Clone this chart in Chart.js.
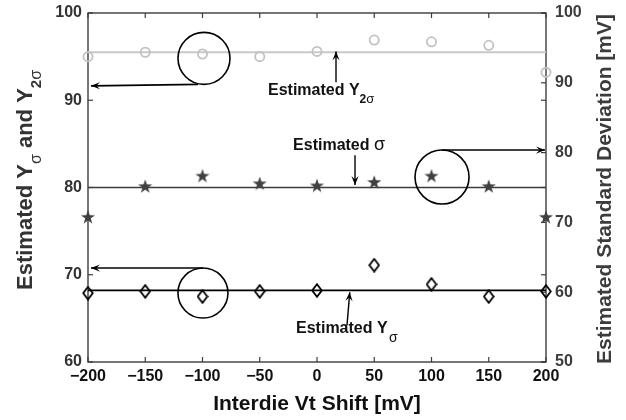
<!DOCTYPE html>
<html><head><meta charset="utf-8">
<script src="https://cdn.jsdelivr.net/npm/chart.js@4/dist/chart.umd.min.js"></script>
<style>html,body{margin:0;padding:0;background:#fff;}#wrap{width:626px;height:420px;}</style>
</head><body><div id="wrap"><canvas id="c" width="626" height="420"></canvas></div>
<script>
// ---- data ----
const xValues = [-200, -150, -100, -50, 0, 50, 100, 150, 200];
const y2SigmaValues = [95.0, 95.5, 95.3, 95.0, 95.6, 96.9, 96.7, 96.3, 93.2];   // left axis
const sigmaValues   = [70.8, 75.2, 76.7, 75.6, 75.3, 75.8, 76.7, 75.2, 70.8];   // right axis [mV]
const ySigmaValues  = [67.9, 68.1, 67.5, 68.1, 68.2, 71.1, 68.9, 67.5, 68.1];   // left axis
const y2SigmaEstimate = 95.5;
const sigmaEstimate = 75.0;
const ySigmaEstimate = 68.2;
const xTicks = [-200, -150, -100, -50, 0, 50, 100, 150, 200];
const leftTicks = [60, 70, 80, 90, 100];
const rightTicks = [50, 60, 70, 80, 90, 100];

const FONT = "'Liberation Sans', Arial, Helvetica, sans-serif";

function pts(ys) { return xValues.map((x, i) => ({ x: x, y: ys[i] })); }
function hline(v) { return [{ x: xValues[0], y: v }, { x: xValues[xValues.length - 1], y: v }]; }

// marker images
function starImg() {
  const c = document.createElement('canvas'); c.width = 16; c.height = 16;
  const g = c.getContext('2d'); g.fillStyle = '#404040'; g.beginPath();
  for (let i = 0; i < 10; i++) {
    const r = i % 2 ? 2.9 : 7.4; const a = -Math.PI / 2 + i * Math.PI / 5;
    const px = 8 + r * Math.cos(a), py = 8.7 + r * Math.sin(a);
    i ? g.lineTo(px, py) : g.moveTo(px, py);
  }
  g.closePath(); g.fill(); return c;
}
function diamondImg() {
  const c = document.createElement('canvas'); c.width = 12; c.height = 15;
  const g = c.getContext('2d'); g.strokeStyle = '#000'; g.lineWidth = 1.8; g.beginPath();
  g.moveTo(6, 1.2); g.lineTo(10.8, 7.5); g.lineTo(6, 13.8); g.lineTo(1.2, 7.5); g.closePath(); g.stroke();
  return c;
}

// callouts (positions in data units of the left axis)
const callouts = [
  { x: -98.7, y: 94.8, r: 26, arrow: 'bottom-left' },
  { x: 109.2, y: 81.2, r: 27, arrow: 'top-right' },
  { x: -99.6, y: 67.9, r: 25, arrow: 'top-left' }
];
const labelArrows = [
  { x1: 16.6, y1: 92.06, x2: 16.6, y2: 95.6 },
  { x1: 33.2, y1: 83.7, x2: 33.2, y2: 80.3 },
  { x1: 26.2, y1: 64.2, x2: 28.6, y2: 68.0 }
];
const labels = [
  { x: -42.8, y: 90.57, parts: [['Estimated Y', 'bold 16px', 0], ['2', 'bold 12px', 8], ['σ', '13px', 8]] },
  { x: -20.9, y: 84.27, parts: [['Estimated ', 'bold 16px', 0], ['σ', '18px', 0]] },
  { x: -18.3, y: 63.3, parts: [['Estimated Y', 'bold 16px', 0], [' ', 'bold 5px', 0], ['σ', '14px', 9]] }
];

function arrow(ctx, x1, y1, x2, y2) {
  ctx.beginPath(); ctx.moveTo(x1, y1); ctx.lineTo(x2, y2); ctx.stroke();
  const ang = Math.atan2(y2 - y1, x2 - x1), L = 9, W = 3.6;
  ctx.beginPath(); ctx.moveTo(x2, y2);
  ctx.lineTo(x2 - L * Math.cos(ang) + W * Math.sin(ang), y2 - L * Math.sin(ang) - W * Math.cos(ang));
  ctx.lineTo(x2 - 0.6 * L * Math.cos(ang), y2 - 0.6 * L * Math.sin(ang));
  ctx.lineTo(x2 - L * Math.cos(ang) - W * Math.sin(ang), y2 - L * Math.sin(ang) + W * Math.cos(ang));
  ctx.closePath(); ctx.fill();
}
function rich(ctx, parts, x, y) {
  let cx = x;
  parts.forEach(([t, f, dy]) => { ctx.font = f + ' ' + FONT; ctx.fillText(t, cx, y + dy); cx += ctx.measureText(t).width; });
}
function richWidth(ctx, parts) {
  let w = 0; parts.forEach(([t, f]) => { ctx.font = f + ' ' + FONT; w += ctx.measureText(t).width; }); return w;
}

const decor = {
  id: 'decor',
  beforeDatasetsDraw(chart) {
    const { ctx, chartArea: a, scales: { x, y, y1 } } = chart;
    ctx.save();
    ctx.strokeStyle = '#3c3c3c'; ctx.lineWidth = 1.4;
    ctx.strokeRect(a.left, a.top, a.right - a.left, a.bottom - a.top);
    ctx.lineWidth = 1.2;
    const ln = (x1, y1_, x2, y2) => { ctx.beginPath(); ctx.moveTo(x1, y1_); ctx.lineTo(x2, y2); ctx.stroke(); };
    xTicks.forEach(v => { const p = x.getPixelForValue(v); ln(p, a.bottom, p, a.bottom - 5); ln(p, a.top, p, a.top + 5); });
    leftTicks.forEach(v => { const p = y.getPixelForValue(v); ln(a.left, p, a.left + 5, p); ln(a.right, p, a.right - 5, p); });
    rightTicks.forEach(v => { const p = y1.getPixelForValue(v); ln(a.right, p, a.right - 5, p); });
    ctx.restore();
  },
  afterDatasetsDraw(chart) {
    const { ctx, chartArea: a, scales: { x, y } } = chart;
    ctx.save();
    ctx.strokeStyle = '#000'; ctx.fillStyle = '#000'; ctx.lineWidth = 1.6;
    callouts.forEach(c => {
      const cx = x.getPixelForValue(c.x), cy = y.getPixelForValue(c.y);
      ctx.beginPath(); ctx.arc(cx, cy, c.r, 0, Math.PI * 2); ctx.stroke();
      if (c.arrow === 'bottom-left') arrow(ctx, cx - 6, cy + c.r, a.left + 3, cy + c.r + 1.5);
      if (c.arrow === 'top-left') arrow(ctx, cx, cy - c.r, a.left + 3, cy - c.r);
      if (c.arrow === 'top-right') arrow(ctx, cx, cy - c.r, a.right - 1, cy - c.r);
    });
    ctx.lineWidth = 1.4;
    labelArrows.forEach(r => arrow(ctx, x.getPixelForValue(r.x1), y.getPixelForValue(r.y1), x.getPixelForValue(r.x2), y.getPixelForValue(r.y2)));
    ctx.fillStyle = '#111'; ctx.textBaseline = 'alphabetic'; ctx.textAlign = 'left';
    labels.forEach(l => rich(ctx, l.parts, x.getPixelForValue(l.x), y.getPixelForValue(l.y)));

    // axis titles
    ctx.fillStyle = '#111'; ctx.textAlign = 'center';
    ctx.font = 'bold 21px ' + FONT;
    ctx.fillText('Interdie Vt Shift [mV]', (a.left + a.right) / 2, 410);

    ctx.textAlign = 'left';
    const lt = [['Estimated Y', 'bold 22px', 0], ['σ', '16px', 9], [' and Y', 'bold 22px', 0], ['2', 'bold 15px', 9], ['σ', '16px', 9]];
    ctx.save(); ctx.translate(32, 180); ctx.rotate(-Math.PI / 2);
    ctx.fillStyle = '#333'; rich(ctx, lt, -richWidth(ctx, lt) / 2, 0); ctx.restore();

    ctx.save(); ctx.translate(611, 189); ctx.rotate(-Math.PI / 2);
    ctx.fillStyle = '#3c3c3c'; ctx.textAlign = 'center'; ctx.font = 'bold 21px ' + FONT;
    ctx.fillText('Estimated Standard Deviation [mV]', 0, 0); ctx.restore();
    ctx.restore();
  }
};

const tickFont = { family: FONT, size: 16, weight: 'bold' };
const noGrid = { display: false, drawTicks: false, tickLength: 0 };
new Chart(document.getElementById('c'), {
  type: 'scatter',
  data: {
    datasets: [
      { data: pts(y2SigmaValues), yAxisID: 'y', pointStyle: 'circle', pointRadius: 4.6, borderWidth: 1.8, borderColor: '#c2c2c2', backgroundColor: 'rgba(0,0,0,0)', showLine: false, clip: false },
      { data: hline(y2SigmaEstimate), yAxisID: 'y', showLine: true, pointRadius: 0, borderColor: '#c8c8c8', borderWidth: 2 },
      { data: pts(sigmaValues), yAxisID: 'y1', pointStyle: starImg(), showLine: false, clip: false },
      { data: hline(sigmaEstimate), yAxisID: 'y1', showLine: true, pointRadius: 0, borderColor: '#3c3c3c', borderWidth: 1.6 },
      { data: pts(ySigmaValues), yAxisID: 'y', pointStyle: diamondImg(), showLine: false, clip: false },
      { data: hline(ySigmaEstimate), yAxisID: 'y', showLine: true, pointRadius: 0, borderColor: '#000', borderWidth: 1.8 }
    ]
  },
  options: {
    responsive: false, animation: false, devicePixelRatio: 1,
    layout: { padding: { top: 13, left: 0, right: 0, bottom: 0 } },
    plugins: { legend: { display: false }, tooltip: { enabled: false } },
    scales: {
      x: {
        type: 'linear', min: -200, max: 200,
        grid: noGrid, border: { display: false },
        ticks: { stepSize: 50, font: tickFont, color: '#111', padding: 5, maxRotation: 0,
          callback: v => (v < 0 ? '\u2212' + Math.abs(v) : String(v)) },
        afterFit: s => { s.height = 58; s.paddingLeft = 0; s.paddingRight = 0; }
      },
      y: {
        position: 'left', min: 60, max: 100,
        grid: noGrid, border: { display: false },
        ticks: { stepSize: 10, font: tickFont, color: '#333', padding: 6 },
        afterFit: s => { s.width = 88; s.paddingTop = 0; s.paddingBottom = 0; }
      },
      y1: {
        position: 'right', min: 50, max: 100,
        grid: noGrid, border: { display: false },
        ticks: { stepSize: 10, font: tickFont, color: '#3c3c3c', padding: 9 },
        afterFit: s => { s.width = 80; s.paddingTop = 0; s.paddingBottom = 0; }
      }
    }
  },
  plugins: [decor]
});
</script>
</body></html>
